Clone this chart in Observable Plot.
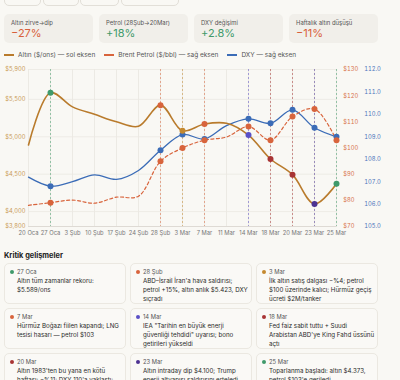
<!DOCTYPE html>
<html><head><meta charset="utf-8">
<script src="https://cdn.jsdelivr.net/npm/d3@7"></script>
<script src="https://cdn.jsdelivr.net/npm/@observablehq/plot@0.6"></script>
<style>
html,body{margin:0;padding:0;background:#f9f8f4;width:400px;height:380px;overflow:hidden;font-family:Inter,"Noto Sans",sans-serif;color:#333;}
.abs{position:absolute;}
.btn{position:absolute;top:-14px;height:18px;border:1px solid #e2dfd8;border-radius:5px;background:#f9f8f4;}
.stat{position:absolute;top:14px;width:89px;height:29px;background:#f1efea;border-radius:5px;box-sizing:border-box;padding:4px 0 0 7px;}
.stat .l{font-size:5.9px;line-height:9px;color:#555;}
.stat .v{font-size:11px;line-height:13px;}
.leg{position:absolute;top:50px;left:4px;font-size:6.5px;line-height:10px;color:#555;display:flex;}
.leg span.i{display:inline-flex;align-items:center;margin-right:9px;}
.leg span.sw{display:inline-block;width:10px;height:1.5px;margin-right:4px;}
#h{position:absolute;top:251px;left:4px;font-size:7.4px;font-weight:700;line-height:10px;color:#222;}
.card{position:absolute;width:122px;height:41px;box-sizing:border-box;border:1px solid #ebe8e1;border-radius:5px;background:#faf9f6;padding:3px 1px 0 12px;}
.card .d{font-size:5.8px;line-height:9px;color:#555;position:relative;}
.card .d i{position:absolute;left:-7px;top:2.5px;width:4px;height:4px;border-radius:50%;}
.card .t{font-size:6.2px;line-height:9.2px;color:#2a2a2a;}
</style></head>
<body>
<div id="root"></div>
<script>
// ---------- data ----------
const dates = ["20 Oca","27 Oca","3 Şub","10 Şub","17 Şub","24 Şub","28 Şub","3 Mar","7 Mar","11 Mar","14 Mar","18 Mar","20 Mar","23 Mar","25 Mar"];
const gold  = [4890,5589,5400,5300,5200,5140,5423,5080,5170,5180,5023,4703,4493,4100,4373];
const brent = [78.1,79.1,80.1,78.9,81.2,81.6,94.9,100,103,104.2,108.2,103,112,114.9,103];
const dxy   = [107.2,106.8,107.0,107.3,107.1,107.5,108.4,109.1,108.9,109.5,109.8,109.6,110.2,109.4,109.0];

const goldTicks  = [3800,4000,4500,5000,5500,5900];
const brentTicks = [70,80,90,100,110,120,130];
const dxyTicks   = [105,106,107,108,109,110,111,112];

const eventDates  = ["27 Oca","28 Şub","3 Mar","7 Mar","14 Mar","18 Mar","20 Mar","23 Mar","25 Mar"];
const eventColors = ["#3f9a6b","#d8643c","#c4892f","#d8643c","#5a50c6","#a83434","#a83434","#4c3292","#3f9a6b"];
const eventTexts  = [
  "Altın tüm zamanlar rekoru: $5.589/ons",
  "ABD–İsrail İran'a hava saldırısı; petrol +15%, altın anlık $5.423, DXY sıçradı",
  "İlk altın satış dalgası −%4; petrol $100 üzerinde kalıcı; Hürmüz geçiş ücreti $2M/tanker",
  "Hürmüz Boğazı fiilen kapandı; LNG tesisi hasarı — petrol $103",
  "IEA \"Tarihin en büyük enerji güvenliği tehdidi\" uyarısı; bono getirileri yükseldi",
  "Fed faiz sabit tuttu + Suudi Arabistan ABD'ye King Fahd üssünü açtı",
  "Altın 1983'ten bu yana en kötü haftası: −%11; DXY 110'a yaklaştı; haftalık kayıp derinleşti",
  "Altın intraday dip $4.100; Trump enerji altyapısı saldırısını erteledi",
  "Toparlanma başladı: altın $4.373, petrol $103'e geriledi"
];

const statLabels = ["Altın zirve→dip","Petrol (28Şub→20Mar)","DXY değişimi","Haftalık altın düşüşü"];
const statValues = ["−27%","+18%","+2.8%","−11%"];
const statColors = ["#d8603b","#3f9a6b","#3f9a6b","#d8603b"];

const legendLabels = ["Altın ($/ons) — sol eksen","Brent Petrol ($/bbl) — sağ eksen","DXY — sağ eksen"];
const C = {gold:"#b97b2c", brent:"#d8643c", dxy:"#3b6cb7"};

// ---------- layout ----------
const root = document.getElementById("root");
[[4,39],[43,77],[80,117],[121,177]].forEach(([a,b])=>{
  const d=document.createElement("div");d.className="btn";d.style.left=a+"px";d.style.width=(b-a)+"px";root.appendChild(d);
});
statLabels.forEach((l,i)=>{
  const d=document.createElement("div");d.className="stat";d.style.left=(4+i*95)+"px";
  d.innerHTML=`<div class="l">${l}</div><div class="v" style="color:${statColors[i]}">${statValues[i]}</div>`;
  root.appendChild(d);
});
const leg=document.createElement("div");leg.className="leg";
[C.gold,C.brent,C.dxy].forEach((c,i)=>{
  leg.innerHTML+=`<span class="i"><span class="sw" style="background:${c}"></span>${legendLabels[i]}</span>`;
});
root.appendChild(leg);

// ---------- chart ----------
const g0=3800,g1=5900;
const fromBrent = v => g0 + (v-70)/60*(g1-g0);
const fromDxy   = v => g0 + (v-105)/7*(g1-g0);
const rows = dates.map((d,i)=>({d, gold:gold[i], brent:fromBrent(brent[i]), dxy:fromDxy(dxy[i])}));
const ev = eventDates.map((d,i)=>{const r=rows[dates.indexOf(d)];return {...r, c:eventColors[i]};});

const chart = Plot.plot({
  width:374, height:180,
  marginLeft:24, marginRight:41.3, marginTop:6, marginBottom:17,
  style:{background:"transparent", fontFamily:"Inter, sans-serif", fontSize:"5.8px", overflow:"visible"},
  x:{type:"point", domain:dates, padding:0},
  y:{domain:[g0,g1]},
  marks:[
    Plot.ruleX(dates,{stroke:"#e9e6df", strokeWidth:0.8}),
    Plot.ruleY(goldTicks,{stroke:"#ebe8e2", strokeWidth:0.8}),
    Plot.ruleY([g0],{stroke:"#d9d6cf", strokeWidth:0.8}),
    Plot.ruleX(ev,{x:"d", stroke:"c", strokeDasharray:"2,2", strokeWidth:0.8, strokeOpacity:0.65}),
    Plot.line(rows,{x:"d", y:"dxy", stroke:C.dxy, strokeWidth:1.3, curve:"catmull-rom"}),
    Plot.line(rows,{x:"d", y:"brent", stroke:C.brent, strokeWidth:1.2, strokeDasharray:"3,2.5", curve:"catmull-rom"}),
    Plot.line(rows,{x:"d", y:"gold", stroke:C.gold, strokeWidth:1.6, curve:"catmull-rom"}),
    Plot.dot(ev,{x:"d", y:"dxy", fill:C.dxy, r:3}),
    Plot.dot(ev,{x:"d", y:"brent", fill:C.brent, r:3}),
    Plot.dot(ev,{x:"d", y:"gold", fill:"c", r:3}),
    Plot.axisY({anchor:"left", ticks:goldTicks, tickSize:0, tickPadding:3, label:null, color:"#c99a55",
      tickFormat:d=>"$"+d3.format(",")(d)}),
    Plot.axisY({anchor:"right", ticks:brentTicks.map(fromBrent), tickSize:0, tickPadding:6, label:null, color:"#d8704a",
      tickFormat:d=>"$"+Math.round(70+(d-g0)/(g1-g0)*60)}),
    Plot.axisY({anchor:"right", ticks:dxyTicks.map(fromDxy), tickSize:0, tickPadding:27, label:null, color:"#4a74bb",
      tickFormat:d=>(105+(d-g0)/(g1-g0)*7).toFixed(1)}),
    Plot.axisX({tickSize:0, tickPadding:4, label:null, color:"#777"})
  ]
});
const wrap=document.createElement("div");wrap.className="abs";wrap.style.left="4px";wrap.style.top="63px";
wrap.appendChild(chart);root.appendChild(wrap);

const h=document.createElement("div");h.id="h";h.textContent="Kritik gelişmeler";root.appendChild(h);
eventDates.forEach((d,i)=>{
  const c=document.createElement("div");c.className="card";
  c.style.left=(4+(i%3)*126)+"px";c.style.top=(263+Math.floor(i/3)*45)+"px";
  c.innerHTML=`<div class="d"><i style="background:${eventColors[i]}"></i>${d}</div><div class="t">${eventTexts[i]}</div>`;
  root.appendChild(c);
});
</script>
</body></html>
